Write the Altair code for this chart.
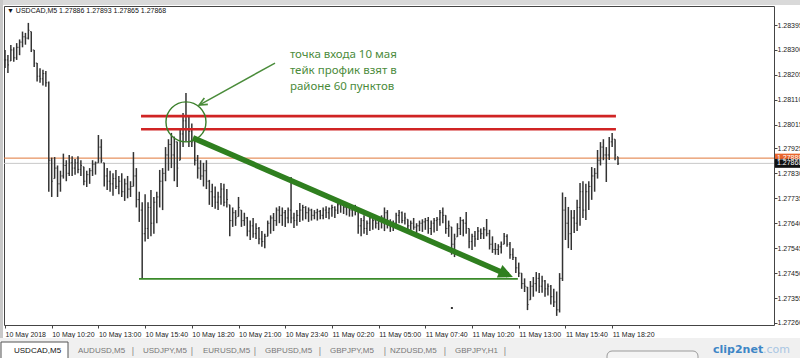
import json
import altair as alt
import pandas as pd

# USDCAD M5, drawn as 10-minute bars; prices in points (0.00001) above 1.27000
BASE = 1.27
POINT = 0.00001
BAR_STEP = 10      # minutes per bar, first bar 10 May 07:40
TICK_STEP = 160    # minutes between time labels

bar_high = [1300, 1281, 1319, 1310, 1326, 1340, 1370, 1365, 1403, 1370,
            1300, 1250, 1230, 1225, 1220, 1180, 890, 892, 860, 840,
            905, 880, 900, 895, 885, 895, 880, 855, 840, 850,
            880, 875, 976, 960, 870, 850, 840, 830, 843, 820,
            830, 810, 820, 800, 911, 850, 760, 720, 750, 720,
            767, 740, 760, 843, 850, 930, 960, 984, 970, 950,
            1000, 1060, 1136, 1045, 1020, 960, 900, 880, 870, 880,
            805, 790, 780, 760, 793, 790, 770, 710, 700, 690,
            740, 690, 680, 664, 650, 660, 640, 626, 610, 600,
            650, 670, 679, 700, 705, 700, 690, 700, 816, 680,
            690, 717, 710, 705, 700, 695, 690, 695, 690, 700,
            705, 700, 710, 705, 720, 725, 720, 715, 712, 705,
            710, 690, 660, 670, 650, 679, 671, 665, 660, 670,
            700, 690, 655, 650, 680, 690, 685, 680, 655, 650,
            660, 640, 650, 655, 660, 664, 650, 660, 664, 690,
            700, 670, 650, 626, 600, 640, 664, 655, 683, 620,
            600, 610, 626, 620, 625, 656, 615, 590, 565, 560,
            570, 603, 598, 568, 545, 511, 490, 450, 430, 397,
            420, 435, 454, 450, 440, 424, 410, 405, 390, 380,
            450, 757, 740, 702, 690, 690, 729, 793, 800, 790,
            800, 854, 850, 919, 949, 960, 930, 968, 984, 960,
            893]
bar_low = [1231, 1212, 1258, 1255, 1262, 1280, 1310, 1320, 1340, 1292,
           1235, 1180, 1175, 1165, 1160, 760, 740, 810, 740, 760,
           810, 800, 820, 820, 825, 830, 820, 785, 778, 790,
           820, 825, 870, 870, 780, 767, 760, 745, 770, 750,
           740, 725, 735, 740, 780, 700, 645, 428, 570, 580,
           590, 600, 640, 700, 690, 800, 840, 850, 800, 778,
           880, 930, 950, 930, 930, 860, 810, 805, 780, 770,
           710, 702, 695, 690, 710, 705, 700, 590, 626, 630,
           665, 626, 630, 590, 576, 585, 580, 560, 550, 545,
           590, 600, 610, 630, 640, 630, 626, 640, 640, 622,
           630, 645, 650, 655, 645, 650, 655, 650, 655, 655,
           660, 655, 665, 660, 675, 680, 675, 670, 665, 665,
           670, 600, 590, 600, 595, 610, 615, 620, 614, 620,
           610, 620, 607, 610, 633, 640, 640, 635, 605, 610,
           615, 603, 610, 607, 615, 600, 595, 605, 610, 630,
           640, 600, 588, 520, 511, 588, 595, 590, 600, 545,
           538, 550, 576, 580, 580, 590, 540, 527, 520, 519,
           525, 560, 550, 505, 500, 450, 435, 390, 378, 309,
           348, 360, 380, 374, 375, 360, 365, 330, 321, 287,
           300, 420, 576, 545, 538, 603, 610, 630, 660, 652,
           690, 729, 760, 810, 860, 880, 797, 881, 930, 880,
           862]
bar_close = [1262, 1243, 1300, 1270, 1310, 1330, 1350, 1345, 1375, 1300,
             1250, 1200, 1190, 1210, 1175, 880, 800, 850, 790, 820,
             860, 830, 870, 850, 870, 845, 860, 800, 825, 840,
             865, 870, 930, 880, 820, 800, 790, 810, 780, 800,
             760, 790, 770, 780, 820, 730, 690, 600, 620, 700,
             640, 720, 740, 800, 830, 900, 940, 900, 950, 850,
             980, 1030, 1000, 990, 950, 880, 850, 820, 840, 800,
             760, 740, 720, 740, 770, 720, 730, 650, 680, 660,
             700, 650, 660, 610, 630, 600, 620, 580, 570, 590,
             640, 660, 650, 690, 670, 680, 660, 690, 660, 650,
             670, 690, 700, 680, 690, 670, 680, 685, 670, 690,
             680, 695, 700, 690, 710, 715, 700, 705, 690, 700,
             685, 630, 650, 620, 640, 660, 650, 640, 650, 660,
             680, 640, 630, 640, 670, 680, 650, 660, 630, 640,
             625, 630, 640, 645, 650, 620, 640, 650, 655, 680,
             670, 620, 630, 560, 580, 620, 650, 640, 620, 570,
             590, 580, 610, 600, 615, 600, 560, 540, 540, 550,
             560, 590, 560, 520, 510, 470, 450, 410, 400, 330,
             400, 410, 430, 400, 420, 390, 400, 360, 340, 310,
             430, 690, 640, 600, 660, 640, 700, 760, 690, 760,
             780, 820, 830, 880, 930, 900, 900, 950, 960, 900,
             868]

time_labels = ["10 May 2018", "10 May 10:20", "10 May 13:00", "10 May 15:40",
               "10 May 18:20", "10 May 21:00", "10 May 23:40", "11 May 02:20",
               "11 May 05:00", "11 May 07:40", "11 May 10:20", "11 May 13:00",
               "11 May 15:40", "11 May 18:20"]
price_labels = [1.28395, 1.28300, 1.28205, 1.28110, 1.28015, 1.27925, 1.27830,
                1.27735, 1.27640, 1.27545, 1.27450, 1.27355, 1.27260]

# levels and drawings (time in minutes from 10 May 07:40)
zone_prices = [1.28048, 1.27998]
zone_start, zone_end = 466, 2093
support_price = 1.27428
support_start, support_end = 459, 1757
ask_price, bid_price = 1.27888, 1.27868

entry_t, entry_p = 620, 1.28026
trend_t = [644, 1740]
trend_p = [1.27965, 1.27435]
pointer_t = [925, 665]
pointer_p = [1.28250, 1.28090]
note_t = 976
note_lines = ["точка входа 10 мая", "тейк профик взят в", "районе 60 пунктов"]
note_prices = [1.28281, 1.28220, 1.28159]
dot_t, dot_p = 1531, 1.27317

header_text = "\u25BC USDCAD,M5  1.27886 1.27893 1.27865 1.27868"
tabs = ["USDCAD,M5", "AUDUSD,M5", "USDJPY,M5", "EURUSD,M5",
        "GBPUSD,M5", "GBPJPY,M5", "NZDUSD,M5", "GBPJPY,H1"]
tab_x = [10, 74, 139, 199, 261, 326, 386, 451]
sep_x = [129, 188, 251, 316, 381, 441, 501]

# ---------------------------------------------------------------- data
rows = []
prev = bar_close[0]
for i, (h, l, c) in enumerate(zip(bar_high, bar_low, bar_close)):
    o = min(max(prev, l), h)
    rows.append({"t": i * BAR_STEP, "high": BASE + h * POINT, "low": BASE + l * POINT,
                 "open": BASE + o * POINT, "close": BASE + c * POINT})
    prev = c
bars_df = pd.DataFrame(rows)

W, H = 770, 319
BAR_COLOR = "#333333"
GREEN = "#2f7f1f"
TEXT_FONT = "Liberation Sans"

x_scale = alt.Scale(domain=[-3.43, 2634.5], nice=False, zero=False)
y_scale = alt.Scale(domain=[1.272523, 1.284674], nice=False, zero=False)

label_expr = json.dumps(time_labels) + f"[round(datum.value / {TICK_STEP})]"
x_axis = alt.Axis(values=[k * TICK_STEP for k in range(len(time_labels))],
                  labelExpr=label_expr, labelAlign="left", labelBaseline="top",
                  labelPadding=2, tickSize=3, tickColor="#444", domain=False,
                  grid=False, labelFont=TEXT_FONT, labelFontSize=7,
                  labelColor="#222", labelOverlap=False, labelFlush=False, title=None)
y_axis = alt.Axis(orient="right", values=price_labels, format=".5f", labelPadding=0,
                  tickSize=3, tickColor="#444", domain=False, grid=False,
                  labelFont=TEXT_FONT, labelFontSize=7, labelColor="#222",
                  labelOverlap=False, labelFlush=False, labelBaseline="middle", title=None)


def X(field):
    return alt.X(field, scale=x_scale, axis=x_axis)


def Y(field):
    return alt.Y(field, scale=y_scale, axis=y_axis)


one = pd.DataFrame({"k": [0]})

# price bars: high-low stems with open (left) and close (right) ticks
stems = alt.Chart(bars_df).mark_rule(color=BAR_COLOR, strokeWidth=1.5).encode(
    x=X("t:Q"), y=Y("low:Q"), y2="high:Q")
opens = alt.Chart(bars_df).transform_calculate(t0="datum.t - 3.6").mark_rule(
    color=BAR_COLOR, strokeWidth=1).encode(x=X("t0:Q"), x2="t:Q", y=Y("open:Q"))
closes = alt.Chart(bars_df).transform_calculate(t1="datum.t + 3.6").mark_rule(
    color=BAR_COLOR, strokeWidth=1).encode(x=X("t:Q"), x2="t1:Q", y=Y("close:Q"))

# ask / bid lines
quote_df = pd.DataFrame({"p": [bid_price, ask_price], "c": ["#c8c8c8", "#e0783a"]})
quote_lines = alt.Chart(quote_df).mark_rule(strokeWidth=1).encode(
    y=Y("p:Q"), color=alt.Color("c:N", scale=None))

# take-profit zone (red) and support (green)
zone_df = pd.DataFrame({"p": zone_prices, "a": zone_start, "b": zone_end})
zone = alt.Chart(zone_df).mark_rule(color="#d02424", strokeWidth=2.6).encode(
    x=X("a:Q"), x2="b:Q", y=Y("p:Q"))
support_df = pd.DataFrame({"p": [support_price], "a": [support_start], "b": [support_end]})
support = alt.Chart(support_df).mark_rule(color="#3a8a2a", strokeWidth=1.6).encode(
    x=X("a:Q"), x2="b:Q", y=Y("p:Q"))

# entry circle
entry_df = pd.DataFrame({"t": [entry_t], "p": [entry_p]})
entry = alt.Chart(entry_df).mark_point(shape="circle", filled=False, size=1600,
                                       strokeWidth=1.4, color="#3a7f2a", opacity=1).encode(
    x=X("t:Q"), y=Y("p:Q"))

# trend arrow: shaft ends a little before the tip, head is a filled triangle
trend_df = pd.DataFrame({"t0": [trend_t[0]], "p0": [trend_p[0]],
                         "t1": [trend_t[0] + 0.985 * (trend_t[1] - trend_t[0])],
                         "p1": [trend_p[0] + 0.985 * (trend_p[1] - trend_p[0])]})
trend = alt.Chart(trend_df).mark_rule(color=GREEN, strokeWidth=5.5).encode(
    x=X("t0:Q"), x2="t1:Q", y=Y("p0:Q"), y2="p1:Q")
head_df = pd.DataFrame({"t": [trend_t[1]], "p": [trend_p[1]]})
trend_head = alt.Chart(head_df).mark_point(
    shape="M0,0L-2,-0.95L-2,0.95Z", filled=True, size=210, angle=23.5,
    color=GREEN, opacity=1).encode(x=X("t:Q"), y=Y("p:Q"))

# thin pointer arrow towards the entry
pointer_df = pd.DataFrame({"t0": [pointer_t[0]], "p0": [pointer_p[0]],
                           "t1": [pointer_t[1]], "p1": [pointer_p[1]]})
pointer = alt.Chart(pointer_df).mark_rule(color="#4a8c3a", strokeWidth=1.5).encode(
    x=X("t0:Q"), x2="t1:Q", y=Y("p0:Q"), y2="p1:Q")
pointer_head = alt.Chart(pd.DataFrame({"t": [pointer_t[1]], "p": [pointer_p[1]]})).mark_point(
    shape="M-2,-0.9L0,0L-2,0.9", filled=False, size=64, angle=151, strokeWidth=1.6,
    color="#4a8c3a", opacity=1).encode(x=X("t:Q"), y=Y("p:Q"))

# note
note_df = pd.DataFrame({"t": note_t, "p": note_prices, "s": note_lines})
note = alt.Chart(note_df).mark_text(align="left", baseline="middle", font="Noto Sans",
                                    fontSize=11.5, color="#4b8b3b").encode(
    x=X("t:Q"), y=Y("p:Q"), text="s:N")

# stray drawing dot
dot = alt.Chart(pd.DataFrame({"t": [dot_t], "p": [dot_p]})).mark_point(
    shape="square", filled=True, size=4, color="#333", opacity=1).encode(
    x=X("t:Q"), y=Y("p:Q"))

# price tags on the right scale
tag_df = pd.DataFrame({"p": [ask_price, bid_price],
                       "lo": [ask_price - 0.00017, bid_price - 0.00017],
                       "hi": [ask_price + 0.00017, bid_price + 0.00017],
                       "c": ["#e8642a", "#111111"],
                       "s": [f"{ask_price:.5f}", f"{bid_price:.5f}"],
                       "o": [0, 1]})
tags = alt.Chart(tag_df).mark_rect().encode(
    x=alt.value(W + 1), x2=alt.value(W + 27), y=Y("lo:Q"), y2="hi:Q",
    color=alt.Color("c:N", scale=None), order="o:Q")
tag_text = alt.Chart(tag_df).mark_text(align="left", baseline="middle", font=TEXT_FONT,
                                       fontSize=7, color="white").encode(
    x=alt.value(W + 3), y=Y("p:Q"), text="s:N")

# window furniture: frames, header, symbol tabs, watermark
frame_top = alt.Chart(one).mark_rect(color="#d9d9d9").encode(
    x=alt.value(-4), x2=alt.value(W + 30), y=alt.value(-6), y2=alt.value(-1))
frame_left = alt.Chart(one).mark_rect(color="#c8c8c8").encode(
    x=alt.value(-4), x2=alt.value(-1), y=alt.value(-6), y2=alt.value(H + 13))
tab_bar = alt.Chart(one).mark_rect(color="#f0f0f0").encode(
    x=alt.value(-4), x2=alt.value(W + 30), y=alt.value(H + 13), y2=alt.value(H + 33))
button = alt.Chart(one).mark_rect(fill="#f4f4f4", stroke="#9a9a9a", strokeWidth=1,
                                  cornerRadius=5).encode(
    x=alt.value(603), x2=alt.value(694), y=alt.value(H + 26), y2=alt.value(H + 40))
header = alt.Chart(one).mark_text(align="left", baseline="middle", font=TEXT_FONT,
                                  fontSize=7, color="#111").encode(
    x=alt.value(3), y=alt.value(5), text=alt.value(header_text))

active_box = alt.Chart(one).mark_rect(fill="white", stroke="#555", strokeWidth=1).encode(
    x=alt.value(-3), x2=alt.value(64), y=alt.value(H + 17), y2=alt.value(H + 34))
tab_layers = [
    alt.Chart(one).mark_text(align="left", baseline="middle", font=TEXT_FONT, fontSize=8,
                             color="#111" if k == 0 else "#777").encode(
        x=alt.value(px), y=alt.value(H + 26), text=alt.value(name))
    for k, (px, name) in enumerate(zip(tab_x, tabs))
]
sep_layers = [
    alt.Chart(one).mark_text(align="center", baseline="middle", font=TEXT_FONT,
                             fontSize=9, color="#888").encode(
        x=alt.value(px), y=alt.value(H + 26), text=alt.value("|"))
    for px in sep_x
]
mark_a = alt.Chart(one).mark_text(align="left", baseline="middle", font="DejaVu Sans",
                                  fontSize=11, fontWeight="bold", color="#3d86c6").encode(
    x=alt.value(709), y=alt.value(H + 25), text=alt.value("clip2net"))
mark_b = alt.Chart(one).mark_text(align="left", baseline="middle", font="DejaVu Sans",
                                  fontSize=11, color="#a9c6e3").encode(
    x=alt.value(759), y=alt.value(H + 25), text=alt.value(".com"))

chart = alt.layer(
    frame_top, frame_left, tab_bar, button, active_box, *tab_layers, *sep_layers,
    mark_a, mark_b,
    quote_lines, stems, opens, closes, zone, support, entry, trend, trend_head,
    pointer, pointer_head, note, dot, tags, tag_text, header
).properties(
    width=W, height=H,
    padding={"left": 4, "top": 6, "right": 26, "bottom": 33},
    autosize=alt.AutoSizeParams(type="none"),
    background="white",
).configure_view(stroke="#444", strokeWidth=1)

chart.save("out.html", embed_options={"renderer": "svg", "actions": False})
